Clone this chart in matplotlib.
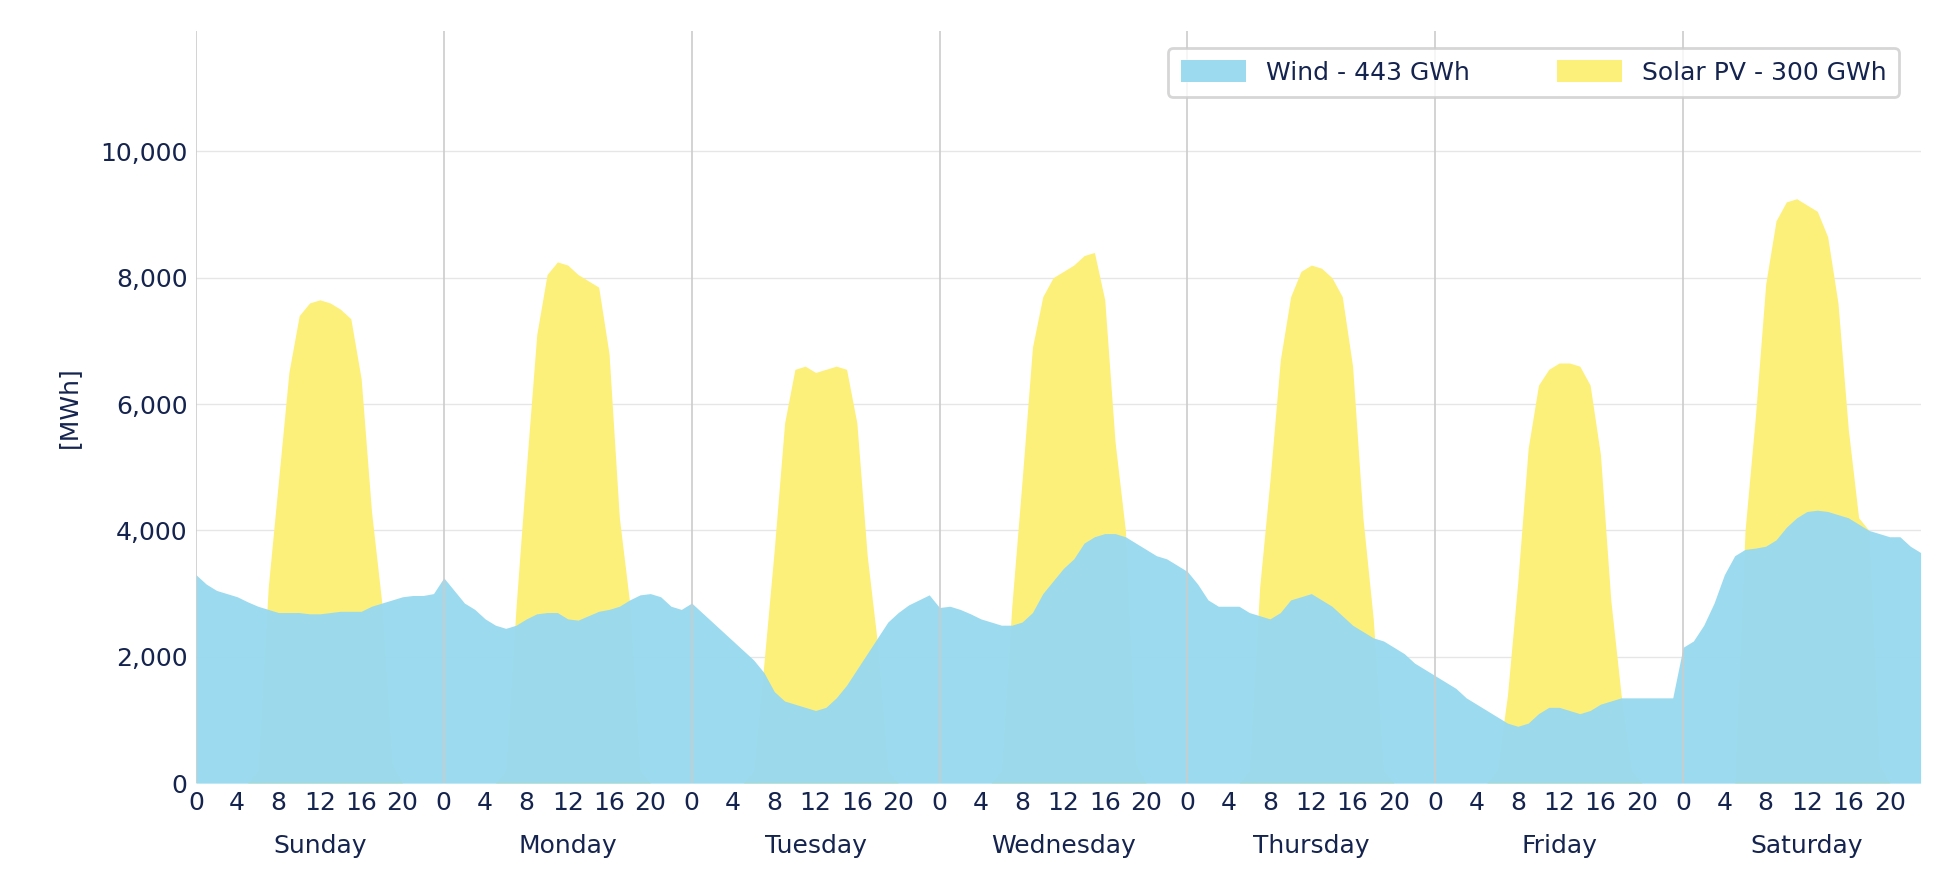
import matplotlib
matplotlib.use("Agg")
import matplotlib.pyplot as plt
import numpy as np

days = ["Sunday", "Monday", "Tuesday", "Wednesday", "Thursday", "Friday", "Saturday"]
hour_ticks = [0, 4, 8, 12, 16, 20]

wind = [
 3300,3150,3050,3000,2950,2870,2800,2750,2700,2700,2700,2680,2680,2700,2720,2720,2720,2800,2850,2900,2950,2970,2970,3000,
 3250,3050,2850,2750,2600,2500,2450,2500,2600,2680,2700,2700,2600,2580,2650,2720,2750,2800,2900,2980,3000,2950,2800,2750,
 2850,2700,2550,2400,2250,2100,1950,1750,1450,1300,1250,1200,1150,1200,1350,1550,1800,2050,2300,2550,2700,2820,2900,2980,
 2780,2800,2750,2680,2600,2550,2500,2500,2550,2700,3000,3200,3400,3550,3800,3900,3950,3950,3900,3800,3700,3600,3550,3450,
 3350,3150,2900,2800,2800,2800,2700,2650,2600,2700,2900,2950,3000,2900,2800,2650,2500,2400,2300,2250,2150,2050,1900,1800,
 1700,1600,1500,1350,1250,1150,1050,950,900,950,1100,1200,1200,1150,1100,1150,1250,1300,1350,1350,1350,1350,1350,1350,
 2150,2250,2500,2850,3300,3600,3700,3720,3750,3850,4050,4200,4300,4320,4300,4250,4200,4100,4000,3950,3900,3900,3750,3650,
]

solar = [
 0,0,0,0,0,0,200,3100,4800,6500,7400,7600,7650,7600,7500,7350,6400,4300,2850,300,0,0,0,0,
 0,0,0,0,0,0,200,2800,5000,7100,8050,8250,8200,8050,7950,7850,6800,4200,2850,200,0,0,0,0,
 0,0,0,0,0,0,200,1900,3700,5700,6550,6600,6500,6550,6600,6550,5700,3600,2200,200,0,0,0,0,
 0,0,0,0,0,0,200,2800,4800,6900,7700,8000,8100,8200,8350,8400,7650,5400,4000,300,0,0,0,0,
 0,0,0,0,0,0,200,3100,4800,6700,7700,8100,8200,8150,8000,7700,6600,4200,2600,200,0,0,0,0,
 0,0,0,0,0,0,200,1400,3200,5300,6300,6550,6650,6650,6600,6300,5200,2900,1400,200,0,0,0,0,
 0,0,0,0,0,0,4000,5800,7900,8900,9200,9250,9150,9050,8650,7600,5600,4200,4000,300,0,0,0,0,
]

navy = "#15244f"
x = np.arange(len(wind))

fig = plt.figure(figsize=(19.4, 8.94), dpi=100)
ax = fig.add_axes([0.101, 0.124, 0.889, 0.841])

ax.fill_between(x, solar, color="#fdf07a", lw=0, label="Solar PV - 300 GWh", zorder=2)
ax.fill_between(x, wind, color="#99d9ef", lw=0, label="Wind - 443 GWh", zorder=3, alpha=0.97)

ax.set_xlim(0, len(wind) - 1)
ax.set_ylim(0, 11900)
ax.set_yticks(range(0, 10001, 2000))
ax.set_yticklabels([f"{v:,}" for v in range(0, 10001, 2000)])
ax.grid(axis="y", color="#e6e6e6", lw=1, zorder=0)
for d in range(1, 7):
    ax.axvline(d * 24, color="#cccccc", lw=1.2, zorder=4)
ax.axvline(0, color="#cccccc", lw=1.2, zorder=4)

xt = [d * 24 + h for d in range(7) for h in hour_ticks]
ax.set_xticks(xt)
ax.set_xticklabels([str(h) for d in range(7) for h in hour_ticks])
for d, name in enumerate(days):
    ax.text(d * 24 + 12, -0.068, name, transform=ax.get_xaxis_transform(),
            ha="center", va="top", fontsize=18, color=navy)

ax.tick_params(axis="both", length=0, labelsize=18, colors=navy, pad=6)
ax.set_ylabel("[MWh]", fontsize=18, color=navy, labelpad=14)
for s in ax.spines.values():
    s.set_visible(False)

h, l = ax.get_legend_handles_labels()
leg = ax.legend(h[::-1], l[::-1], loc="upper right", ncol=2, fontsize=18,
                frameon=True, fancybox=True, edgecolor="#cccccc", labelcolor=navy,
                handlelength=2.6, handleheight=1.0, columnspacing=3.5,
                bbox_to_anchor=(0.995, 0.995), borderpad=0.5)
leg.get_frame().set_linewidth(2)
leg.set_zorder(10)

fig.savefig("out.png", dpi=100, facecolor="white")
